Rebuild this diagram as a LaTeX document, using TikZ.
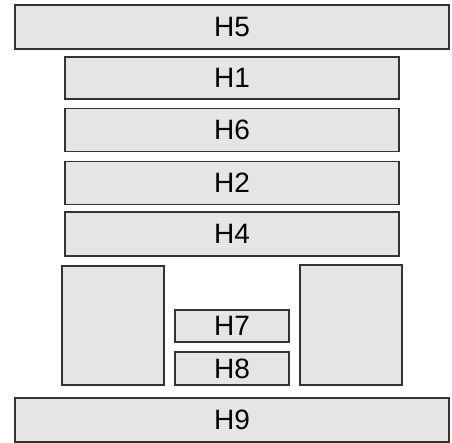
\documentclass[tikz,border=0pt]{standalone}
\usepackage{fontspec}
\setmainfont{Liberation Sans}
\begin{document}
\begin{tikzpicture}[x=1pt,y=-1pt,
  blk/.style={draw=black!80, fill=black!10!white, line width=1.1pt, font=\fontsize{28}{30}\selectfont}]
\useasboundingbox (0,0) rectangle (452,443);
\node[blk, minimum width=434pt, minimum height=44pt] (h5) at (232,27) {H5};
\node[blk, minimum width=334pt, minimum height=42pt] (h1) at (232,78) {H1};
\node[blk, minimum width=334pt, minimum height=43pt] (h6) at (232,130) {H6};
\node[blk, minimum width=334pt, minimum height=43pt] (h2) at (232,183) {H2};
\node[blk, minimum width=334pt, minimum height=44pt] (h4) at (232,234) {H4};
\node[blk, minimum width=102pt, minimum height=119pt] (lb) at (113,325.5) {};
\node[blk, minimum width=102pt, minimum height=120pt] (rb) at (351,325) {};
\node[blk, minimum width=114pt, minimum height=32pt] (h7) at (232,326) {H7};
\node[blk, minimum width=114pt, minimum height=33pt] (h8) at (232,368.5) {H8};
\node[blk, minimum width=434pt, minimum height=44pt] (h9) at (232,420) {H9};
\end{tikzpicture}
\end{document}
